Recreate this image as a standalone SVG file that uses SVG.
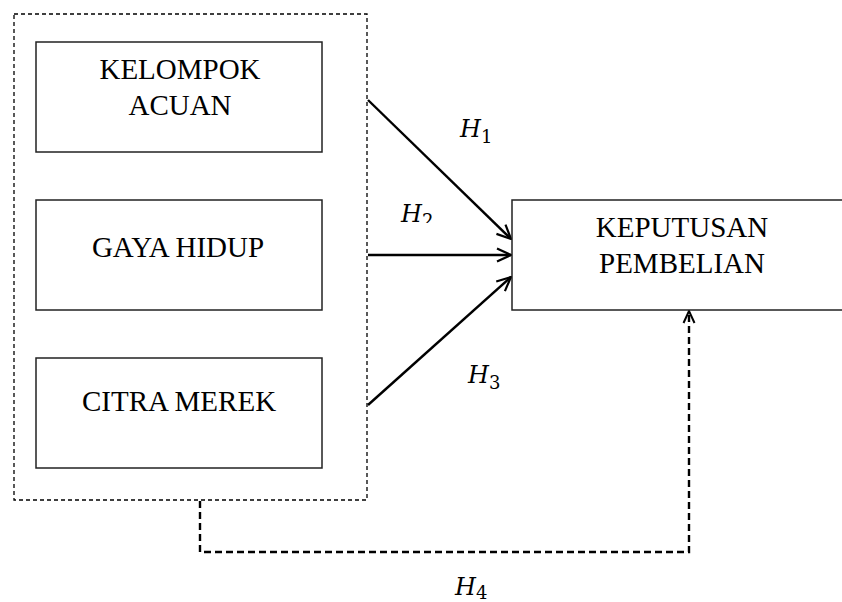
<svg xmlns="http://www.w3.org/2000/svg" width="842" height="602" viewBox="0 0 842 602">
<style>
.box{fill:#fff;stroke:#222;stroke-width:1.5}
.lbl{font-family:"Liberation Serif",serif;font-size:29px;fill:#000;text-anchor:middle}
.h{font-family:"DejaVu Serif","Liberation Serif",serif;font-style:italic;font-size:24px;fill:#000}
.sub{font-style:normal;font-size:18px}
.arr{stroke:#000;stroke-width:2.4;fill:none}
</style>
<defs>
<marker id="ah" viewBox="0 0 16 16" refX="15" refY="8" markerWidth="16" markerHeight="16" markerUnits="userSpaceOnUse" orient="auto">
<path d="M1,1.5 L15,8 L1,14.5" fill="none" stroke="#000" stroke-width="2.2"/>
</marker>
<marker id="ah2" viewBox="0 0 14 14" refX="13" refY="7" markerWidth="14" markerHeight="14" markerUnits="userSpaceOnUse" orient="auto">
<path d="M1,1.5 L13,7 L1,12.5" fill="none" stroke="#000" stroke-width="2"/>
</marker>
<clipPath id="clipH2"><rect x="380" y="190" width="60" height="33"/></clipPath>
</defs>
<g id="group-box">
<rect x="14" y="14" width="353" height="486" fill="none" stroke="#000" stroke-width="1.3" stroke-dasharray="4,3"/>
</g>
<g id="connectors">
<line class="arr" x1="368" y1="100" x2="511" y2="239" marker-end="url(#ah)"/>
<line class="arr" x1="368" y1="255" x2="511" y2="255" marker-end="url(#ah)"/>
<line class="arr" x1="368" y1="405" x2="511" y2="277" marker-end="url(#ah)"/>
<polyline class="arr" points="200,501 200,552 689,552 689,311" stroke-dasharray="7,4" marker-end="url(#ah2)"/>
</g>
<g id="node-kelompok">
<rect class="box" x="36" y="42" width="286" height="110"/>
<text class="lbl" x="180" y="79">KELOMPOK</text>
<text class="lbl" x="180" y="115">ACUAN</text>
</g>
<g id="node-gaya">
<rect class="box" x="36" y="200" width="286" height="110"/>
<text class="lbl" x="178" y="257">GAYA HIDUP</text>
</g>
<g id="node-citra">
<rect class="box" x="36" y="358" width="286" height="110"/>
<text class="lbl" x="179" y="411">CITRA MEREK</text>
</g>
<g id="node-keputusan">
<rect class="box" x="512" y="200" width="340" height="110"/>
<text class="lbl" x="682" y="237">KEPUTUSAN</text>
<text class="lbl" x="682" y="273">PEMBELIAN</text>
</g>
<g id="labels">
<text class="h" x="460" y="137">H<tspan class="sub" dy="6">1</tspan></text>
<g clip-path="url(#clipH2)"><text class="h" x="401" y="222">H<tspan class="sub" dy="5">2</tspan></text></g>
<text class="h" x="468" y="383">H<tspan class="sub" dy="6">3</tspan></text>
<text class="h" x="455" y="595">H<tspan class="sub" dy="4">4</tspan></text>
</g>
</svg>
